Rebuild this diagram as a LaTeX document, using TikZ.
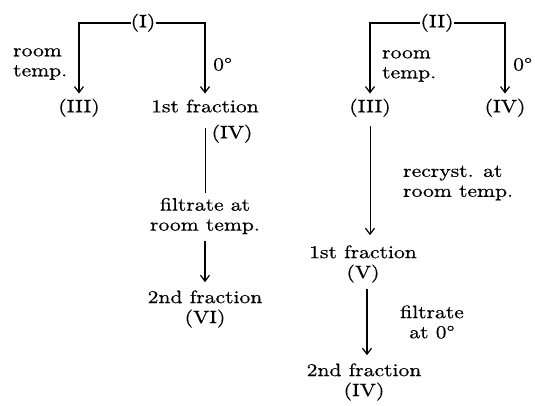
\documentclass[tikz,border=0pt]{standalone}
\usepackage{fontspec}
\setmainfont{lmroman10-regular.otf}[FakeStretch=1.2, FakeBold=0.6]
\usetikzlibrary{arrows.meta}
\begin{document}
\begin{tikzpicture}[x=1pt,y=-1pt,
  lbl/.style={inner sep=0pt, font=\fontsize{18}{20}\selectfont, align=center},
  one/.style={lbl, text height=12.5pt, text depth=4pt},
  conn/.style={line width=1.2pt},
  thinline/.style={line width=0.7pt},
  arr/.style={conn, -{Straight Barb[length=6pt,width=9pt,line width=1.2pt]}},
  tharr/.style={thinline, -{Straight Barb[length=6pt,width=9pt,line width=1.2pt]}}]
\useasboundingbox (0,0) rectangle (535,405);
% left scheme
\node[one] (I) at (143,23) {(I)};
\node[lbl, anchor=west, align=left] (rtA) at (13,64) {room\\temp.};
\node[one, anchor=west] (zA) at (213,66) {0°};
\node[one] (IIIa) at (79,108) {(III)};
\node[one] (fA1) at (205,108) {1st fraction};
\node[one] (IVa) at (232,134) {(IV)};
\node[lbl] (filA) at (205,216) {filtrate at\\room temp.};
\node[lbl] (fA2) at (205,309) {2nd fraction\\(VI)};
\draw[arr, shorten >=6pt] (I.west) -| (IIIa.north);
\draw[arr, shorten >=6pt] (I.east) -| (fA1.north);
\draw[thinline, shorten <=12pt, shorten >=5pt] (fA1.south) -- (fA1.south |- filA.north);
\draw[arr, shorten <=7pt, shorten >=8pt] (filA.south) -- (filA.south |- fA2.north);
% right scheme
\node[one] (II) at (437,23) {(II)};
\node[lbl, anchor=west, align=left] (rtB) at (382,66) {room\\temp.};
\node[one, anchor=west] (zB) at (513,66) {0°};
\node[one] (IIIb) at (370,108) {(III)};
\node[one] (IVb) at (505,108) {(IV)};
\node[lbl, anchor=west, align=left] (recr) at (403,183) {recryst. at\\room temp.};
\node[lbl] (fB1) at (363,264) {1st fraction\\(V)};
\node[lbl] (filB) at (432,322) {filtrate\\at 0°};
\node[lbl] (fB2) at (364,382) {2nd fraction\\(IV)};
\draw[arr, shorten >=6pt] (II.west) -| (IIIb.north);
\draw[arr, shorten >=6pt] (II.east) -| (IVb.north);
\draw[tharr, shorten <=10pt, shorten >=10pt] (IIIb.south) -- (IIIb.south |- fB1.north);
\draw[arr, shorten <=6pt, shorten >=8pt] ([xshift=4pt]fB1.south) -- ([xshift=4pt]fB1.south |- fB2.north);
\end{tikzpicture}
\end{document}
